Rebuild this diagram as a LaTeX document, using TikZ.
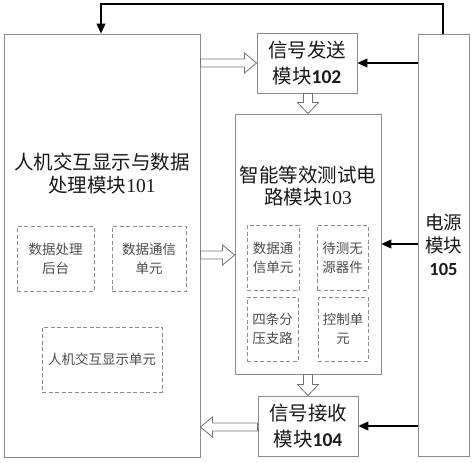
\documentclass[tikz,border=0pt]{standalone}
\usepackage{fontspec}
\newfontfamily\cjk{Noto Sans CJK SC}
\newfontfamily\serf{Liberation Serif}
\newfontfamily\calib{Carlito}
\usetikzlibrary{arrows.meta,calc}
\begin{document}
\begin{tikzpicture}[x=1pt,y=-1pt,
  box/.style={draw=black!45,line width=0.9pt,fill=white,inner sep=0pt},
  dbox/.style={draw=black!45,line width=0.8pt,dash pattern=on 4pt off 2.5pt,inner sep=0pt,
     align=center,text=black!70,font=\cjk\fontsize{13.5}{19}\selectfont},
  ttl/.style={align=center,inner sep=0pt,text=black!90,font=\cjk\fontsize{19.5}{23}\selectfont},
  solid arrow/.style={draw=black,line width=1.1pt,-{Triangle[length=10pt,width=9pt]}},
  hollow/.style={draw=black!55,line width=0.8pt,fill=white,line join=miter}
]
\useasboundingbox (0,0) rectangle (474,463);

% main boxes
\node[box,minimum width=196pt,minimum height=423pt] (m101) at (102,245.5) {};
\node[box,minimum width=100pt,minimum height=60pt] (m102) at (307,63) {};
\node[box,minimum width=146pt,minimum height=260pt] (m103) at (308,244) {};
\node[box,minimum width=100pt,minimum height=60pt] (m104) at (308,426) {};
\node[box,minimum width=51pt,minimum height=422pt] (m105) at (443.5,245) {};

% titles
\node[ttl] (t101a) at (102,162) {人机交互显示与数据};
\node[ttl] (t101b) at (102,185) {处理模块{\serf 101}};
\node[ttl] (t103a) at (308,175) {智能等效测试电};
\node[ttl] (t103b) at (308,197) {路模块{\serf 103}};
\node[ttl,font=\cjk\fontsize{19.5}{26}\selectfont] (t102) at (m102) {信号发送\\模块{\calib\bfseries 102}};
\node[ttl,font=\cjk\fontsize{19.5}{26}\selectfont] (t104) at (m104) {信号接收\\模块{\calib\bfseries 104}};
\node[ttl,font=\cjk\fontsize{18.5}{23}\selectfont] (t105) at (m105) {电源\\模块\\{\calib\bfseries 105}};

% dashed sub boxes
\node[dbox,minimum width=77pt,minimum height=65pt] (d1) at (55.5,258.5) {数据处理\\后台};
\node[dbox,minimum width=74pt,minimum height=65pt] (d2) at (149,258.5) {数据通信\\单元};
\node[dbox,minimum width=120pt,minimum height=65pt] (d3) at (102,359.5) {人机交互显示单元};
\node[dbox,minimum width=52pt,minimum height=65pt] (e1) at (273,257.5) {数据通\\信单元};
\node[dbox,minimum width=51pt,minimum height=65pt] (e2) at (342.5,257.5) {待测无\\源器件};
\node[dbox,minimum width=51pt,minimum height=64pt] (e3) at (272.5,329) {四条分\\压支路};
\node[dbox,minimum width=50pt,minimum height=64pt] (e4) at (343,329) {控制单\\元};

% feedback line from power to 101
\coordinate (fb1) at (443,4);
\coordinate (fb2) at (101,4);
\draw[solid arrow] (m105.north -| fb1) -- (fb1) -- (fb2) -- (m101.north -| fb2);

% solid arrows from power module
\draw[solid arrow] (m105.west |- m102.east) -- (m102.east);
\draw[solid arrow] (m105.west |- m103.east) -- (m103.east);
\draw[solid arrow] (m105.west |- m104.east) -- (m104.east);

% hollow arrows
\newcommand\hollowH[3]{%
  \draw[hollow] let \p1=(#1), \p2=(#2), \p3=(0,#3),
     \n1={ifthenelse(\x2>\x1,1,-1)} in
   (\x1,\y3+4pt) -- (\x2-\n1*12pt,\y3+4pt) -- (\x2-\n1*12pt,\y3+10pt) -- (\x2,\y3)
   -- (\x2-\n1*12pt,\y3-10pt) -- (\x2-\n1*12pt,\y3-4pt) -- (\x1,\y3-4pt) -- cycle;}
\newcommand\hollowV[3]{%
  \draw[hollow] let \p1=(#1), \p2=(#2), \p3=(#3,0) in
   (\x3-4.5pt,\y1) -- (\x3-4.5pt,\y2+11pt) -- (\x3-10.5pt,\y2+11pt) -- (\x3,\y2)
   -- (\x3+10.5pt,\y2+11pt) -- (\x3+4.5pt,\y2+11pt) -- (\x3+4.5pt,\y1) -- cycle;}

\hollowH{m101.east}{m102.west}{63}
\hollowH{m101.east}{m103.west}{255}
\hollowH{m104.west}{m101.east}{427}
\hollowV{m102.south}{m103.north}{308}
\hollowV{m103.south}{m104.north}{308}
\end{tikzpicture}
\end{document}
